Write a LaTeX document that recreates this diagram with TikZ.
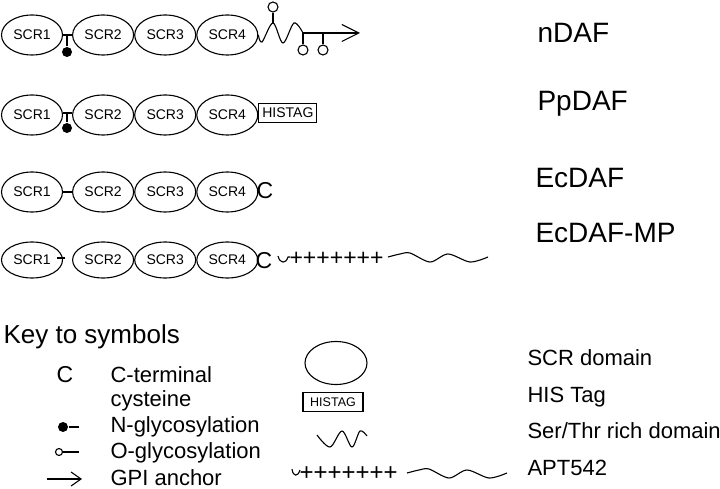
\documentclass[tikz,border=0pt]{standalone}
\usepackage{fontspec}
\setmainfont{Liberation Sans}
\usetikzlibrary{arrows.meta}
\usetikzlibrary{positioning}
\usetikzlibrary{shapes.geometric}

\begin{document}
\begin{tikzpicture}[
	x=1pt,y=-1pt,
	line width=1.1pt,
	scr/.style={
		draw,ellipse,
		minimum width=61pt,
		minimum height=40pt,
		inner sep=0pt,
		font=\fontsize{14}{14}\selectfont,
	},
	histag/.style={
		draw,
		minimum width=58pt,
		minimum height=19pt,
		inner sep=0pt,
		font=\fontsize{14}{14}\selectfont,
	},
	variant/.style={anchor=base west,inner sep=0pt,font=\fontsize{28}{28}\selectfont},
	keytext/.style={anchor=base west,inner sep=0pt,font=\fontsize{22}{22}\selectfont},
	cterm/.style={anchor=base west,inner sep=0pt,font=\fontsize{23}{23}\selectfont},
	charge/.style={anchor=west,inner sep=0pt,font=\fontsize{23}{23}\selectfont},
	nglyc/.style={fill,circle,inner sep=0pt,minimum size=10pt},
	oglyc/.style={draw,circle,inner sep=0pt,minimum size=10pt},
	gpi/.style={-{Straight Barb[length=17pt,width=17pt]}},
	node distance=0pt
]
\useasboundingbox (0,0) rectangle (720,489);

% nDAF
\node [scr] (nd1) at (32,35) {SCR1};
\node [scr,right=9pt of nd1] (nd2) {SCR2};
\node [scr,right=0pt of nd2] (nd3) {SCR3};
\node [scr,right=0pt of nd3] (nd4) {SCR4};
\node [nglyc] (ndn) at (67,52) {};
\draw (nd1.east) -- (nd2.west);
\draw (ndn) -- (ndn |- nd1.east);
\coordinate (ndpk) at (273,23);
\coordinate (ndw) at (303,33);
\coordinate (ndtip) at (360,33);
\draw plot[smooth,tension=0.55] coordinates {(nd4.east) (262,42) (ndpk) (283,43) (294,23) (ndw)};
\node [oglyc] (ndo1) at (273,7) {};
\node [oglyc] (ndo2) at (303,50) {};
\node [oglyc] (ndo3) at (323,50) {};
\draw (ndo1) -- (ndpk);
\draw (ndo2) -- (ndo2 |- ndw);
\draw (ndo3) -- (ndo3 |- ndw);
\draw [gpi] (ndw) -- (ndtip);
\node [variant] (ndname) at (537,43) {nDAF};

% PpDAF
\node [scr] (pp1) at (32,115) {SCR1};
\node [scr,right=9pt of pp1] (pp2) {SCR2};
\node [scr,right=0pt of pp2] (pp3) {SCR3};
\node [scr,right=0pt of pp3] (pp4) {SCR4};
\node [histag,right=0pt of pp4,yshift=2pt] (pptag) {HISTAG};
\node [nglyc] (ppn) at (67,128) {};
\draw ([yshift=2pt]pp1.east) -- ([yshift=2pt]pp2.west);
\draw (ppn) -- (ppn |- pptag.west);
\node [variant] (ppname) at (537,111) {PpDAF};

% EcDAF
\node [scr] (ec1) at (32,192) {SCR1};
\node [scr,right=9pt of ec1] (ec2) {SCR2};
\node [scr,right=0pt of ec2] (ec3) {SCR3};
\node [scr,right=0pt of ec3] (ec4) {SCR4};
\draw (ec1.east) -- (ec2.west);
\node [cterm] (ecc) at (256,199) {C};
\node [variant] (ecname) at (535,188) {EcDAF};

% EcDAF-MP
\node [scr,minimum height=36pt] (mp1) at (32,260) {SCR1};
\node [scr,minimum height=36pt,right=9pt of mp1] (mp2) {SCR2};
\node [scr,minimum height=36pt,right=0pt of mp2] (mp3) {SCR3};
\node [scr,minimum height=36pt,right=0pt of mp3] (mp4) {SCR4};
\draw ([xshift=-6pt,yshift=2pt]mp1.east) -- ([xshift=2pt,yshift=2pt]mp1.east);
\node [cterm] (mpc) at (255,268) {C};
\draw (278,256) .. controls (280,264) and (286,264) .. (288,257) -- (290,257);
\node [charge] (mpplus) at (289,259) {+++++++};
\draw plot[smooth,tension=0.5] coordinates {(388,257) (400,254) (410,253) (430,262) (448,254) (470,262) (488,257)};
\node [variant] (mpname) at (535,242) {EcDAF-MP};

% key
\node [keytext,font=\fontsize{26}{26}\selectfont] (keytitle) at (3,343) {Key to symbols};
\node [cterm] (keyc) at (56,382) {C};
\node [keytext] (keyctext) at (110,382) {C-terminal};
\node [keytext] (keyctext2) at (110,406) {cysteine};
\node [nglyc] (keyn) at (63,427) {};
\coordinate (keynend) at (79,427);
\draw (keyn) -- (keynend);
\node [keytext] (keyntext) at (110,432) {N-glycosylation};
\node [oglyc,minimum size=7pt] (keyo) at (59,452) {};
\coordinate (keyoend) at (79,452);
\draw (keyo) -- (keyoend);
\node [keytext] (keyotext) at (110,458) {O-glycosylation};
\coordinate (keygpi) at (47,479);
\coordinate (keygpitip) at (82,479);
\draw [-{Straight Barb[length=10pt,width=14pt]}] (keygpi) -- (keygpitip);
\node [keytext] (keygtext) at (110,485) {GPI anchor};

\node [scr,minimum width=62pt,minimum height=43pt] (keyscr) at (336,363) {};
\node [keytext] (keyscrtext) at (527,365) {SCR domain};
\node [histag,minimum width=60pt,font=\fontsize{12.5}{12.5}\selectfont] (keytag) at (333,402) {HISTAG};
\node [keytext] (keytagtext) at (527,402) {HIS Tag};
\draw plot[smooth,tension=0.55] coordinates {(317,435) (330,447) (342,431) (352,447) (360,431) (367,436)};
\node [keytext] (keysttext) at (527,438) {Ser/Thr rich domain};
\draw (292,469) .. controls (293,477) and (298,477) .. (300,470);
\node [charge,font=\fontsize{24}{24}\selectfont] (keyplus) at (299,474) {+++++++};
\draw plot[smooth,tension=0.5] coordinates {(407,473) (419,470) (429,469) (449,478) (467,470) (489,478) (507,473)};
\node [keytext] (keyapttext) at (527,475) {APT542};
\end{tikzpicture}
\end{document}
